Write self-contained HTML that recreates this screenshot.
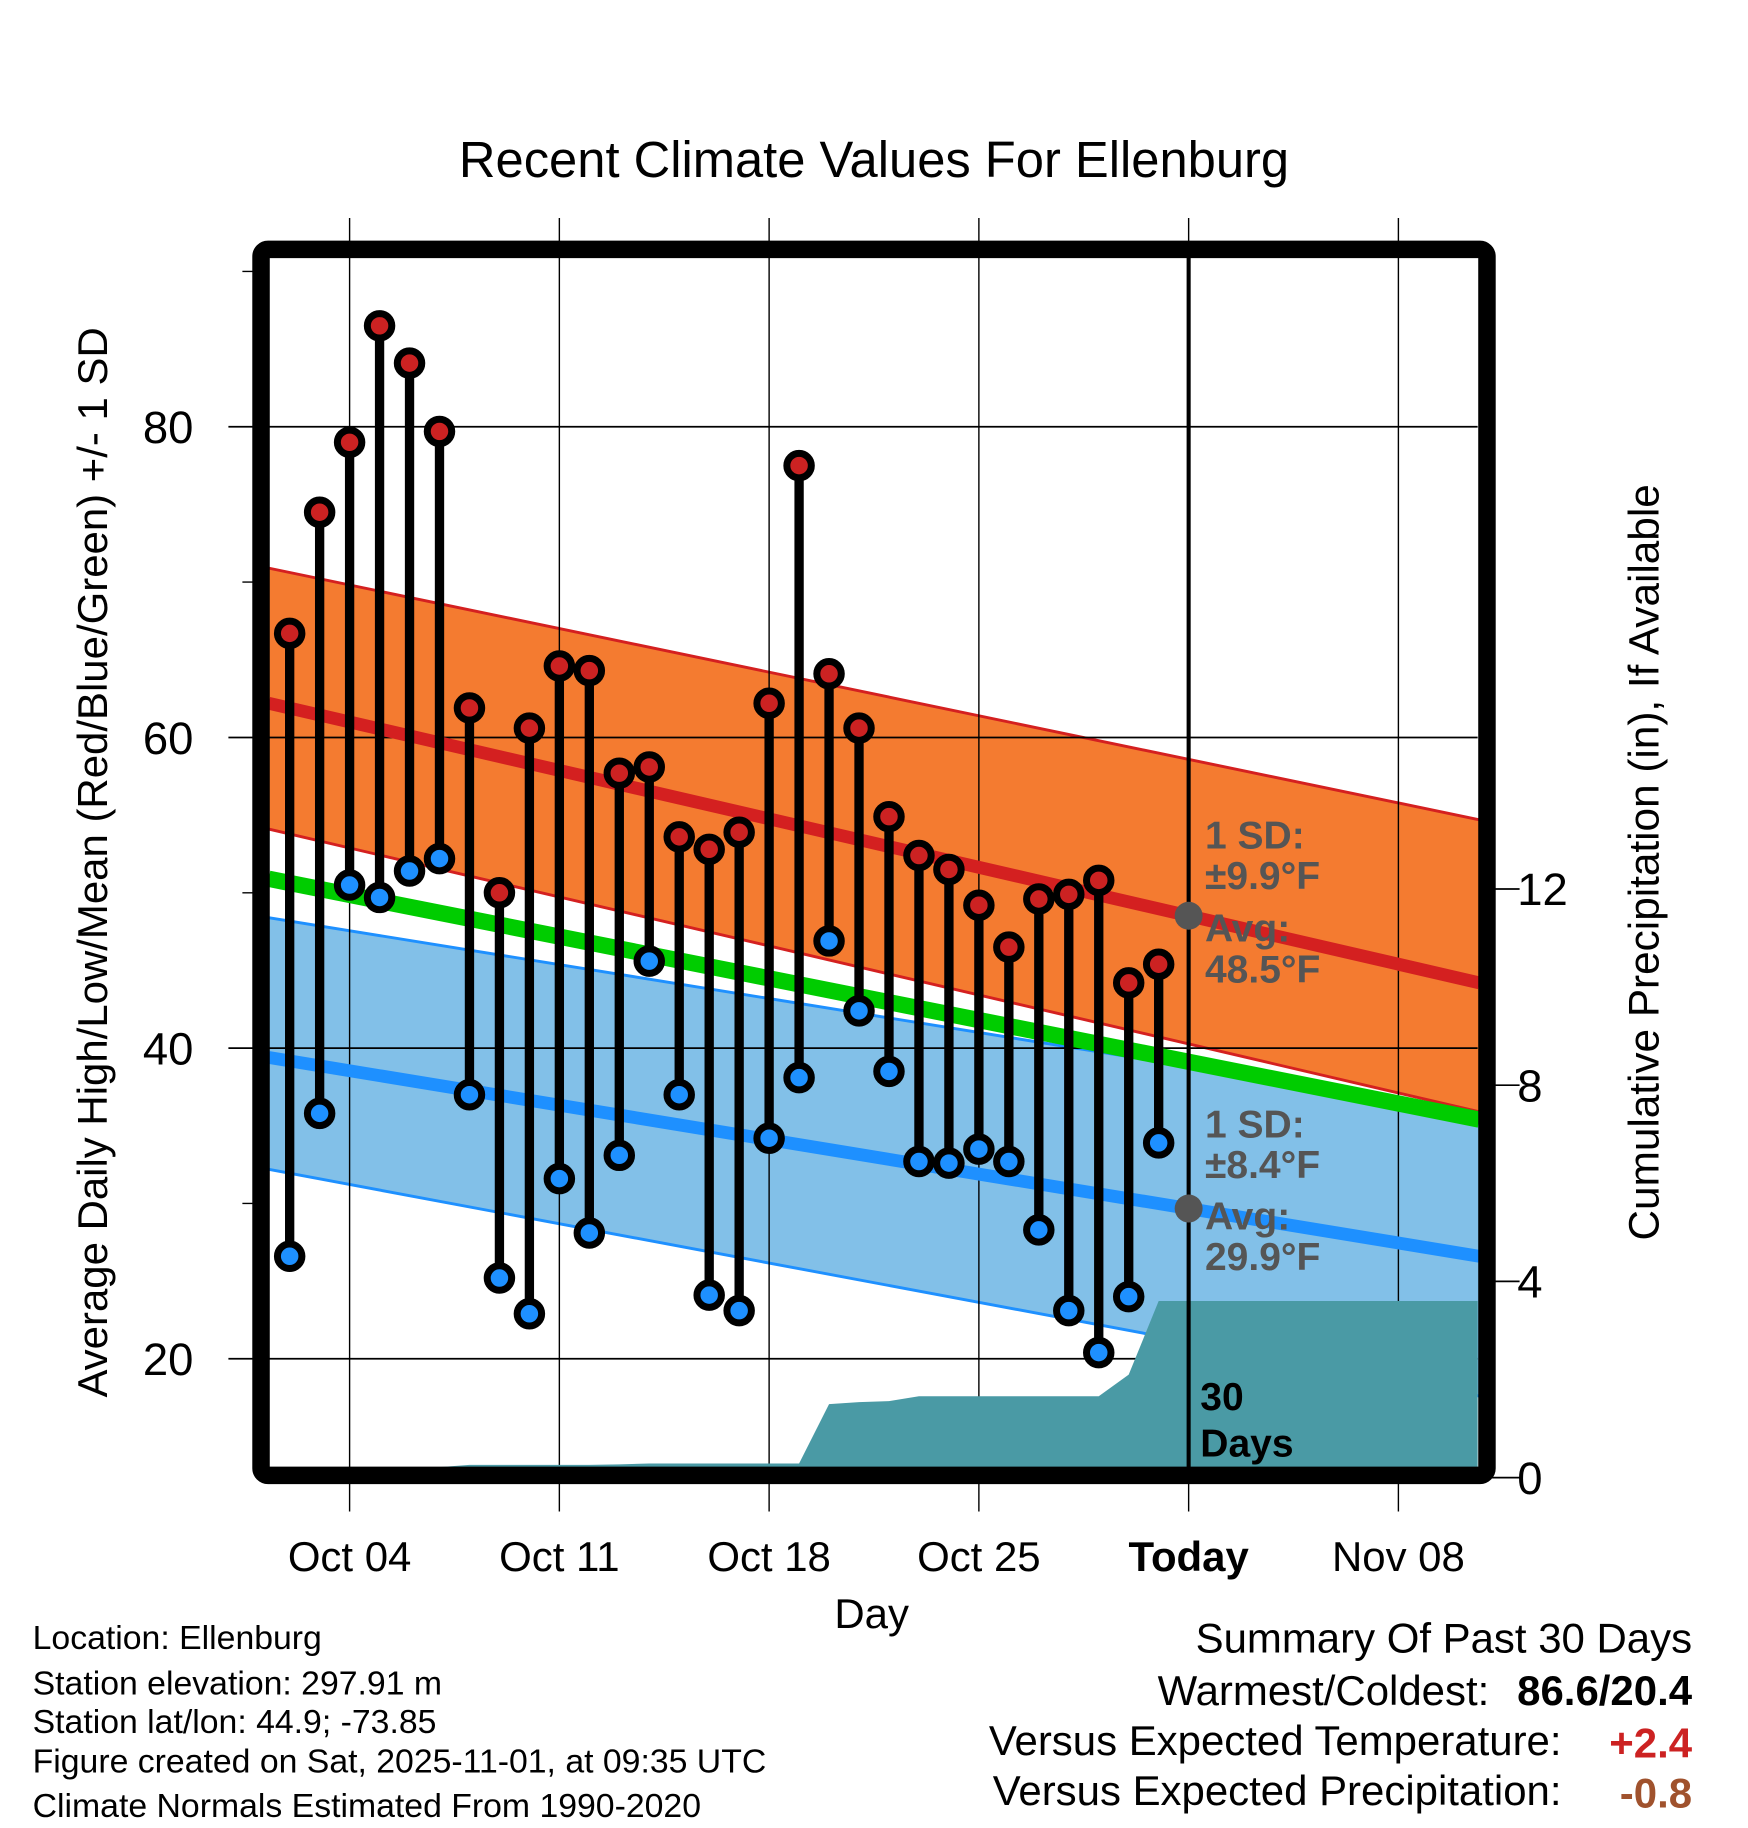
<!DOCTYPE html>
<html><head><meta charset="utf-8"><style>
html,body{margin:0;padding:0;background:#fff}
svg{display:block;font-family:"Liberation Sans",Arial,sans-serif}
</style></head><body>
<svg id="chart" width="1748" height="1828" viewBox="0 0 1500 1568.6" xmlns="http://www.w3.org/2000/svg">
<g id="bands"></g><g id="grid"></g><g id="lines"></g><g id="precip"></g><g id="marks"></g><g id="frame"></g><g id="labels"></g>
</svg>
<script>
// ---- data ----
const days = [2,3,4,5,6,7,8,9,10,11,12,13,14,15,16,17,18,19,20,21,22,23,24,25,26,27,28,29,30,31]; // October day numbers
const highs = [66.7,74.5,79.0,86.5,84.1,79.7,61.9,50.0,60.6,64.6,64.3,57.7,58.1,53.6,52.8,53.9,62.2,77.5,64.1,60.6,54.9,52.4,51.5,49.2,46.5,49.6,49.9,50.8,44.2,45.4];
const lows = [26.6,35.8,50.5,49.7,51.4,52.2,37.0,25.2,22.9,31.6,28.1,33.1,45.6,37.0,24.1,23.1,34.2,38.1,46.9,42.4,38.5,32.7,32.6,33.5,32.7,28.3,23.1,20.4,24.0,33.9];
const precip = [0,0,0,0,0,0.2,0.26,0.26,0.26,0.26,0.26,0.27,0.29,0.29,0.29,0.29,0.29,0.29,1.5,1.54,1.56,1.66,1.66,1.66,1.66,1.66,1.66,1.66,2.1,3.6];
const normDays = [1.3, 41.7]; // endpoints (Oct day numbers) of normals
const normHigh = [62.2, 44.2];
const normHighUpper = [70.9, 54.7];
const normHighLower = [54.1, 35.9];
const normMean = [50.9, 35.4];
const normLow = [39.4, 26.6];
const normLowUpper = [48.4, 35.8];
const normLowLower = [32.2, 17.6];
const tempTicks = [20,40,60,80];
const minorTicks = [30,50,70,90];
const precipTicks = [0,4,8,12];
const xTickDays = [4,11,18,25,32,39];
const xTickLabels = ["Oct 04","Oct 11","Oct 18","Oct 25","Today","Nov 08"];

// ---- axes ----
const X0=231,X1=1268,Y0=221,Y1=1259;
const xs = d => 300 + (d-4)*(180/7);
const ys = v => 1166 - (v-20)*13.33;
const yp = p => 1268 - p*42.1;
const NS="http://www.w3.org/2000/svg";
function mk(tag,attrs,parent,txt){const e=document.createElementNS(NS,tag);for(const k in attrs)e.setAttribute(k,attrs[k]);if(txt!==undefined)e.textContent=txt;document.getElementById(parent).appendChild(e);return e;}

function band(up,lo,fill,stroke){
  const pts=[[xs(normDays[0]),ys(up[0])],[xs(normDays[1]),ys(up[1])],[xs(normDays[1]),ys(lo[1])],[xs(normDays[0]),ys(lo[0])]];
  const e=mk('polygon',{points:pts.map(p=>p.join(',')).join(' '),fill:fill},'bands');
  mk('line',{x1:pts[0][0],y1:pts[0][1],x2:pts[1][0],y2:pts[1][1],stroke:stroke,'stroke-width':2.5},'bands');
  mk('line',{x1:pts[3][0],y1:pts[3][1],x2:pts[2][0],y2:pts[2][1],stroke:stroke,'stroke-width':2.5},'bands');
  return e;
}
const bb=band(normLowUpper,normLowLower,'#82c0e8','#1e90ff');


const ob=band(normHighUpper,normHighLower,'#f47b30','#d42020');



xTickDays.forEach(d=>{mk('line',{x1:xs(d),y1:187,x2:xs(d),y2:1297,stroke:'#000','stroke-width':1.2},'grid');});
tempTicks.forEach(v=>{mk('line',{x1:196,y1:ys(v),x2:X1,y2:ys(v),stroke:'#000','stroke-width':1.5},'grid');});
minorTicks.forEach(v=>{mk('line',{x1:208,y1:ys(v),x2:222,y2:ys(v),stroke:'#000','stroke-width':1.2},'grid');});
precipTicks.forEach(p=>{mk('line',{x1:1276,y1:yp(p),x2:1304,y2:yp(p),stroke:'#000','stroke-width':1.5},'grid');});

function nline(arr,color,w,name){const e=mk('line',{x1:xs(normDays[0]),y1:ys(arr[0]),x2:xs(normDays[1]),y2:ys(arr[1]),stroke:color,'stroke-width':w},'lines');
 
 }
nline(normLow,'#1e90ff',11,'normal-low-line');
nline(normHigh,'#d42020',11,'normal-high-line');
nline(normMean,'#00cc00',14,'normal-mean-line');

let pp=[[xs(days[0]),Y1]];
days.forEach((d,i)=>pp.push([xs(d),Math.min(Y1,yp(precip[i]))]));
pp.push([X1,yp(precip[precip.length-1])]);pp.push([X1,Y1]);
const pa=mk('polygon',{points:pp.map(p=>p.join(',')).join(' '),fill:'#4a9aa5'},'precip');



const tl=mk('line',{x1:xs(32),y1:Y0,x2:xs(32),y2:Y1,stroke:'#000','stroke-width':3.5},'marks');


days.forEach((d,i)=>{
  const x=xs(d);
  mk('line',{x1:x,y1:ys(highs[i]),x2:x,y2:ys(lows[i]),stroke:'#000','stroke-width':8},'marks');
  const h=mk('circle',{cx:x,cy:ys(highs[i]),r:10.5,fill:'#cc2222',stroke:'#000','stroke-width':6},'marks');
  
  
  const l=mk('circle',{cx:x,cy:ys(lows[i]),r:10.5,fill:'#1e90ff',stroke:'#000','stroke-width':6},'marks');
  
  
});
const tH = normHigh[0]+(normHigh[1]-normHigh[0])*(32-normDays[0])/(normDays[1]-normDays[0]);
const tL = normLow[0]+(normLow[1]-normLow[0])*(32-normDays[0])/(normDays[1]-normDays[0]);
mk('circle',{cx:xs(32),cy:ys(tH),r:12,fill:'#555'},'marks');
mk('circle',{cx:xs(32),cy:ys(tL),r:12,fill:'#555'},'marks');

mk('rect',{x:224,y:214,width:1052,height:1052,rx:6,fill:'none',stroke:'#000','stroke-width':15},'frame');

function T(x,y,txt,attrs,name){const a=Object.assign({x:x,y:y},attrs||{});const e=mk('text',a,'labels',txt);
 
 return e;}
T(750,152,'Recent Climate Values For Ellenburg',{'font-size':43.5,'text-anchor':'middle'},'chart-title');
tempTicks.forEach(v=>T(166,ys(v)+14,String(v),{'font-size':39,'text-anchor':'end'},'y-tick-label'));
precipTicks.forEach(p=>T(1302,yp(p)+14,String(p),{'font-size':39},'y2-tick-label'));
xTickDays.forEach((d,i)=>T(xs(d),1348,xTickLabels[i],{'font-size':36,'text-anchor':'middle','font-weight':i==4?'bold':'normal'},'x-tick-label'));
T(748,1397,'Day',{'font-size':36,'text-anchor':'middle'},'x-axis-title');
T(0,0,'Average Daily High/Low/Mean (Red/Blue/Green) +/- 1 SD',{'font-size':36,'text-anchor':'middle',transform:'translate(92,740) rotate(-90)'},'y-axis-title');
T(0,0,'Cumulative Precipitation (in), If Available',{'font-size':36.3,'text-anchor':'middle',transform:'translate(1423,740) rotate(-90)'},'y2-axis-title');
const ann={'font-size':33.5,'font-weight':'bold',fill:'#555'};
T(1034,728,'1 SD:',ann,'high-sd-label');T(1034,763,'±9.9°F',ann,'high-sd-value');
T(1034,808,'Avg:',ann,'high-avg-label');T(1034,843,'48.5°F',ann,'high-avg-value');
T(1034,976,'1 SD:',ann,'low-sd-label');T(1034,1011,'±8.4°F',ann,'low-sd-value');
T(1034,1055,'Avg:',ann,'low-avg-label');T(1034,1090,'29.9°F',ann,'low-avg-value');
T(1030,1210,'30',{'font-size':33.5,'font-weight':'bold'},'days-label');
T(1030,1250,'Days',{'font-size':33.5,'font-weight':'bold'},'days-label');
const info=['Location: Ellenburg','Station elevation: 297.91 m','Station lat/lon: 44.9; -73.85','Figure created on Sat, 2025-11-01, at 09:35 UTC','Climate Normals Estimated From 1990-2020'];
const infoY=[1415,1454,1487,1521,1559];
info.forEach((s,i)=>T(28,infoY[i],s,{'font-size':29},'station-info'));
T(1452,1418,'Summary Of Past 30 Days',{'font-size':36,'text-anchor':'end'},'summary-title');
T(1278,1463,'Warmest/Coldest:',{'font-size':36,'text-anchor':'end'},'warmest-label');
T(1452,1463,'86.6/20.4',{'font-size':36,'text-anchor':'end','font-weight':'bold'},'warmest-value');
T(1340,1506,'Versus Expected Temperature:',{'font-size':36,'text-anchor':'end'},'temp-anom-label');
T(1452,1508,'+2.4',{'font-size':36,'text-anchor':'end','font-weight':'bold',fill:'#cc2222'},'temp-anom-value');
T(1340,1549,'Versus Expected Precipitation:',{'font-size':36,'text-anchor':'end'},'precip-anom-label');
T(1452,1551,'-0.8',{'font-size':36,'text-anchor':'end','font-weight':'bold',fill:'#a0522d'},'precip-anom-value');
</script>
</body></html>
